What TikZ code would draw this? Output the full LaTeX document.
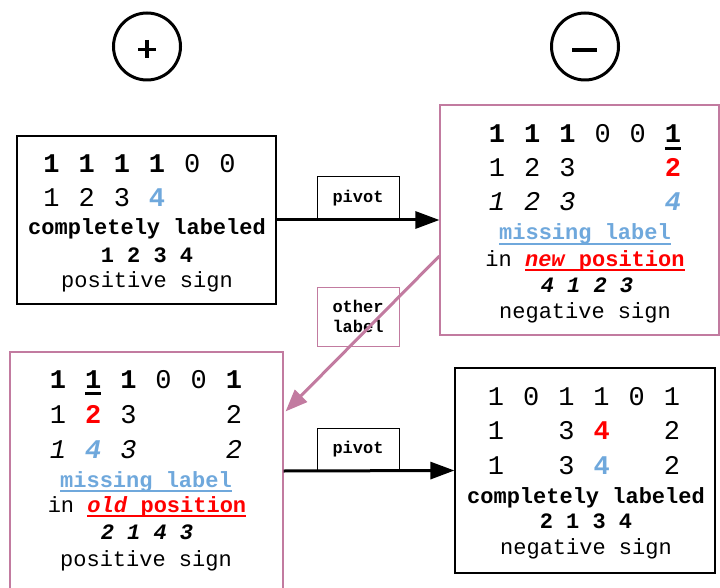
\documentclass[tikz,border=0pt]{standalone}
\usepackage{fontspec}
\setmainfont{Liberation Mono}
\usetikzlibrary{arrows.meta,calc}

\definecolor{pinkline}{HTML}{C27BA0}
\definecolor{lblue}{HTML}{6FA8DC}
\newcommand{\cl}[1]{\makebox[35.2pt]{#1}}
\newcommand{\ulthick}[1]{\leavevmode\setbox0=\hbox{#1}\rlap{\rule[-7.3pt]{\wd0}{3.3pt}}\box0}
\newcommand{\ultext}[1]{\leavevmode\setbox0=\hbox{#1}\rlap{\rule[-5.3pt]{\wd0}{2.6pt}}\box0}

\tikzset{
  digit/.style={font=\fontsize{27}{30}\selectfont, inner sep=0pt, anchor=base},
  txt/.style={font=\fontsize{22}{26}\selectfont, inner sep=0pt, anchor=base},
  box/.style={draw, line width=1.2pt, inner sep=0pt},
  tag/.style={draw, line width=1pt, inner sep=0pt, minimum width=82pt, font=\bfseries\fontsize{17}{20}\selectfont, align=center},
  sign/.style={draw, circle, line width=3pt, minimum size=67pt, inner sep=0pt},
  arr/.style={line width=3pt, -{Triangle[length=24pt,width=17pt]}}
}

\begin{document}
\begin{tikzpicture}[x=1pt, y=-1pt]
\useasboundingbox (0,0) rectangle (720,588);
\clip (0,0) rectangle (720,588);

\node[sign] (plus) at (147,46.5) {};
\draw[line width=3.5pt] ($(plus)+(-9,3)$) -- ($(plus)+(9,3)$);
\draw[line width=3.5pt] ($(plus)+(0,-6.5)$) -- ($(plus)+(0,11.5)$);
\node[sign] (minus) at (585,46.5) {};
\draw[line width=4pt] ($(minus)+(-13,3.5)$) -- ($(minus)+(12,3.5)$);

\node[box, minimum width=259pt, minimum height=168pt] (boxTL) at (146.5,220) {};
\node[box, draw=pinkline, minimum width=279pt, minimum height=230pt] (boxTR) at (579.5,220) {};
\node[box, draw=pinkline, minimum width=273pt, minimum height=238pt] (boxBL) at (146.5,471) {};
\node[box, minimum width=260pt, minimum height=205pt] (boxBR) at (585,470.5) {};

\node[tag, minimum height=42pt] (pivotA) at (358,198) {pivot};
\node[tag, draw=pinkline, minimum height=59pt] (otherlbl) at (358,316.5) {other\\label};
\node[tag, minimum height=42pt] (pivotB) at (358,449) {pivot};

\node[digit] (tlA) at (139.5,173) {\cl{\bfseries 1}\cl{\bfseries 1}\cl{\bfseries 1}\cl{\bfseries 1}\cl{0}\cl{0}};
\node[digit] (tlB) at (139.5,207) {\cl{1}\cl{2}\cl{3}\cl{\color{lblue}\bfseries 4}\cl{}\cl{}};
\node[txt] (tlC) at (147,235) {\bfseries completely labeled};
\node[txt] (tlD) at (147,262) {\bfseries 1 2 3 4};
\node[txt] (tlE) at (147,287) {positive sign};

\node[digit] (trA) at (585,143) {\cl{\bfseries 1}\cl{\bfseries 1}\cl{\bfseries 1}\cl{0}\cl{0}\cl{\ulthick{\bfseries 1}}};
\node[digit] (trB) at (585,177) {\cl{1}\cl{2}\cl{3}\cl{}\cl{}\cl{\color{red}\bfseries 2}};
\node[digit] (trC) at (585,211) {\cl{\itshape 1}\cl{\itshape 2}\cl{\itshape 3}\cl{}\cl{}\cl{\color{lblue}\bfseries\itshape 4}};
\node[txt] (trD) at (585,240) {\color{lblue}\bfseries\ultext{missing label}};
\node[txt] (trE) at (585,266) {in {\color{red}\bfseries\ultext{\textit{new} position}}};
\node[txt] (trF) at (587,292) {\bfseries\itshape 4 1 2 3};
\node[txt] (trG) at (585,318) {negative sign};

\node[digit] (blA) at (146,388) {\cl{\bfseries 1}\cl{\ulthick{\bfseries 1}}\cl{\bfseries 1}\cl{0}\cl{0}\cl{\bfseries 1}};
\node[digit] (blB) at (146,423) {\cl{1}\cl{\color{red}\bfseries 2}\cl{3}\cl{}\cl{}\cl{2}};
\node[digit] (blC) at (146,458) {\cl{\itshape 1}\cl{\color{lblue}\bfseries\itshape 4}\cl{\itshape 3}\cl{}\cl{}\cl{\itshape 2}};
\node[txt] (blD) at (146,487) {\color{lblue}\bfseries\ultext{missing label}};
\node[txt] (blE) at (147,512) {in {\color{red}\bfseries\ultext{\textit{old} position}}};
\node[txt] (blF) at (147,539) {\bfseries\itshape 2 1 4 3};
\node[txt] (blG) at (146,566) {positive sign};

\node[digit] (brA) at (584,405) {\cl{1}\cl{0}\cl{1}\cl{1}\cl{0}\cl{1}};
\node[digit] (brB) at (584,439) {\cl{1}\cl{}\cl{3}\cl{\color{red}\bfseries 4}\cl{}\cl{2}};
\node[digit] (brC) at (584,474) {\cl{1}\cl{}\cl{3}\cl{\color{lblue}\bfseries 4}\cl{}\cl{2}};
\node[txt] (brD) at (586,503) {\bfseries completely labeled};
\node[txt] (brE) at (586,528) {\bfseries 2 1 3 4};
\node[txt] (brF) at (586,554) {negative sign};

\draw[arr] (boxTL.east) -- (boxTR.west);
\draw[arr] (boxBL.east) -- (boxBR.west);
\draw[arr, pinkline, -{Triangle[length=22pt,width=17pt]}] ($(boxTR.west)+(0,36)$) -- ($(boxBL.north east)+(2,60)$);
\end{tikzpicture}
\end{document}
